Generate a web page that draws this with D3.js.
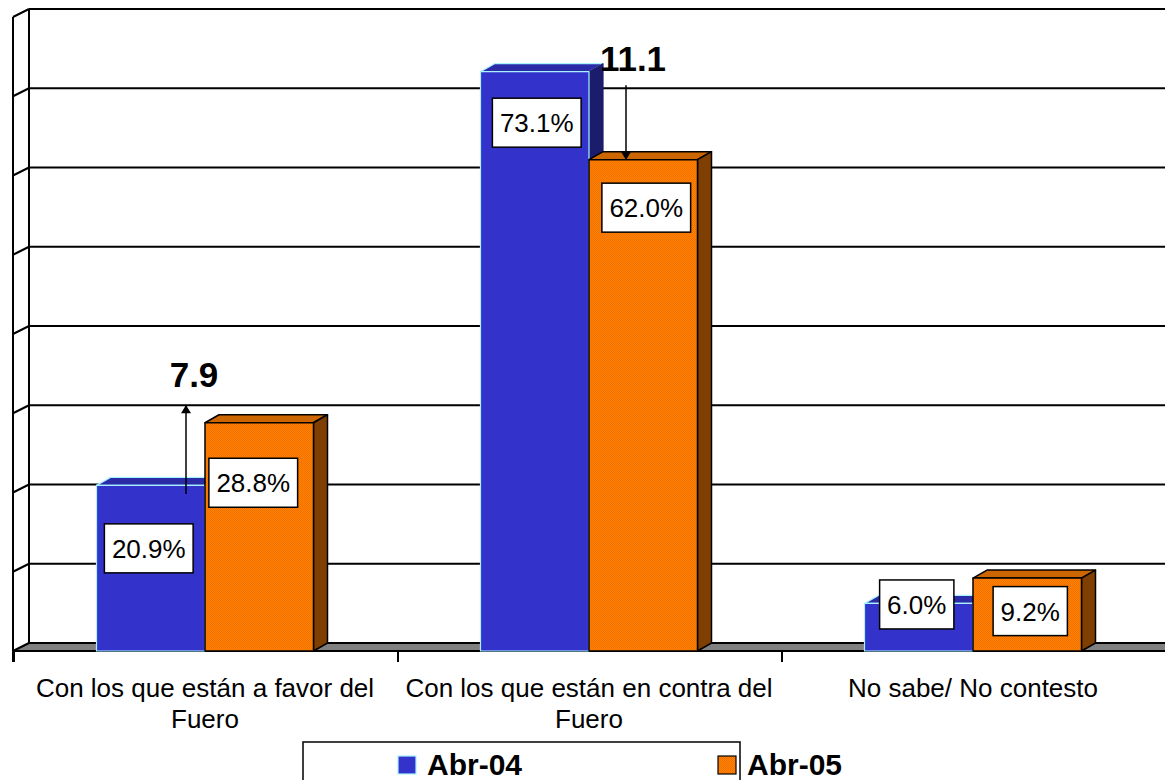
<!DOCTYPE html>
<html><head><meta charset="utf-8">
<script src="https://cdn.jsdelivr.net/npm/d3@7"></script>
<style>body{margin:0;background:#fff}svg{display:block;font-family:Arial,"Liberation Sans",sans-serif}</style>
</head><body>
<svg id="c" width="1165" height="780"></svg>
<script>
// ---- data ----
const categories = ["Con los que están a favor del Fuero", "Con los que están en contra del Fuero", "No sabe/ No contesto"];
const categoryLines = [["Con los que están a favor del", "Fuero"], ["Con los que están en contra del", "Fuero"], ["No sabe/ No contesto"]];
const seriesNames = ["Abr-04", "Abr-05"];
const abr04 = [20.9, 73.1, 6.0];
const abr05 = [28.8, 62.0, 9.2];
const yTicks = [0, 10, 20, 30, 40, 50, 60, 70, 80];

// ---- layout ----
const W = 1165, H = 780;
const WDX = 16, WDY = 8;   // wall depth
const BDX = 14, BDY = 8;   // bar depth
const labelDy = [[63, 51, 1], [60, 48, 33]];
const labelDx = [[-2, 2, -2], [-6, 3, 3]];
const annot = [
  {cat: 0, from: 19.8, to: 31.0, ax: 186, tx: 194, ty: 387},
  {cat: 1, from: 71.4, to: 62.0, ax: 626, tx: 633, ty: 71}
];

const svg = d3.select("#c");
const y = d3.scaleLinear().domain([0, 80]).range([651, 17]);
const x0 = d3.scaleBand().domain(d3.range(categories.length)).range([13, W]);
const x1 = d3.scaleBand().domain(seriesNames).range([83.5, 300.5]);
const series = [abr04, abr05];

const defs = svg.append("defs");
const pat = defs.append("pattern").attr("id", "org").attr("width", 2).attr("height", 2).attr("patternUnits", "userSpaceOnUse");
pat.append("rect").attr("width", 2).attr("height", 2).attr("fill", "#FF8400");
pat.append("rect").attr("width", 1).attr("height", 1).attr("fill", "#F26E00");
pat.append("rect").attr("x", 1).attr("y", 1).attr("width", 1).attr("height", 1).attr("fill", "#F26E00");

const xL = x0.range()[0];
// floor
svg.append("polygon")
  .attr("points", [[xL, y(0)], [xL + WDX, y(0) - WDY], [W + 5, y(0) - WDY], [W + 5, y(0)]].map(p => p.join(",")).join(" "))
  .attr("fill", "#808080");

// grid lines on back wall and left wall
const grid = svg.append("g").attr("stroke", "#000").attr("stroke-width", 2).attr("fill", "none");
yTicks.forEach(t => {
  grid.append("line").attr("x1", xL + WDX).attr("x2", W + 5).attr("y1", y(t) - WDY).attr("y2", y(t) - WDY);
  grid.append("line").attr("x1", xL).attr("x2", xL + WDX).attr("y1", y(t)).attr("y2", y(t) - WDY);
});
grid.append("line").attr("x1", xL + WDX).attr("x2", xL + WDX).attr("y1", y(80) - WDY).attr("y2", y(0) - WDY);
grid.append("line").attr("x1", xL).attr("x2", xL).attr("y1", y(80)).attr("y2", y(0) + 11);
// x axis front edge
grid.append("line").attr("x1", xL).attr("x2", W + 5).attr("y1", y(0)).attr("y2", y(0));
// category ticks
d3.range(categories.length + 1).forEach(i => {
  const xx = i < categories.length ? x0(i) : x0.range()[1];
  grid.append("line").attr("x1", xx + 1).attr("x2", xx + 1).attr("y1", y(0)).attr("y2", y(0) + 11);
});

// bars
const styles = [
  {front: "#3333CC", top: "#2B2BA8", side: "#1C1C6C", stroke: "#A8F2FF", sw: 1.2},
  {front: "url(#org)", top: "#CC6600", side: "#7F3F00", stroke: "#000", sw: 1.5}
];
const bars = svg.append("g");
categories.forEach((c, i) => {
  series.forEach((s, k) => {
    const st = styles[k];
    const x = x0(i) + x1(seriesNames[k]), w = x1.bandwidth();
    const top = y(s[i]), bot = y(0);
    const g = bars.append("g").attr("stroke", st.stroke).attr("stroke-width", st.sw).attr("stroke-linejoin", "round");
    g.append("polygon").attr("points", [[x, top], [x + BDX, top - BDY], [x + w + BDX, top - BDY], [x + w, top]].map(p => p.join(",")).join(" ")).attr("fill", st.top);
    g.append("polygon").attr("points", [[x + w, top], [x + w + BDX, top - BDY], [x + w + BDX, bot - BDY], [x + w, bot]].map(p => p.join(",")).join(" ")).attr("fill", st.side).attr("stroke", k === 0 ? "#1C1C6C" : "#000");
    g.append("rect").attr("x", x).attr("y", top).attr("width", w).attr("height", bot - top).attr("fill", st.front);
  });
});

// value labels
const labs = svg.append("g").attr("font-size", 26);
categories.forEach((c, i) => {
  series.forEach((s, k) => {
    const x = x0(i) + x1(seriesNames[k]) + x1.bandwidth() / 2 + labelDx[k][i];
    const cy = y(s[i]) + labelDy[k][i];
    const txt = s[i].toFixed(1) + "%";
    const t = labs.append("text").attr("x", x).attr("y", cy + 9.5).attr("text-anchor", "middle").text(txt);
    const bw = t.node().getComputedTextLength() + 15;
    labs.insert("rect", "text:last-child").attr("x", x - bw / 2).attr("y", cy - 24.5).attr("width", bw).attr("height", 49)
      .attr("fill", "#fff").attr("stroke", "#000").attr("stroke-width", 1.5);
  });
});

// annotations (differences)
defs.append("marker").attr("id", "arr").attr("viewBox", "0 0 10 12").attr("refX", 9.5).attr("refY", 6)
  .attr("markerWidth", 12).attr("markerHeight", 10).attr("markerUnits", "userSpaceOnUse").attr("orient", "auto")
  .append("path").attr("d", "M0,0 L10,6 L0,12 Z").attr("fill", "#000");
annot.forEach(a => {
  svg.append("line").attr("x1", a.ax).attr("x2", a.ax).attr("y1", y(a.from)).attr("y2", y(a.to))
    .attr("stroke", "#000").attr("stroke-width", 1.5).attr("marker-end", "url(#arr)");
  const diff = Math.abs(abr05[a.cat] - abr04[a.cat]).toFixed(1);
  svg.append("text").attr("x", a.tx).attr("y", a.ty).attr("text-anchor", "middle")
    .attr("font-size", 35).attr("font-weight", "bold").text(diff);
});

// category labels
const cl = svg.append("g").attr("font-size", 26).attr("text-anchor", "middle");
categoryLines.forEach((lines, i) => {
  const cx = x0(i) + x0.bandwidth() / 2;
  lines.forEach((ln, j) => cl.append("text").attr("x", cx).attr("y", 697 + j * 31).text(ln));
});

// legend
const lg = svg.append("g");
lg.append("rect").attr("x", 303).attr("y", 742).attr("width", 437).attr("height", 60).attr("fill", "#fff").attr("stroke", "#000").attr("stroke-width", 1.5);
const legX = [398, 718];
seriesNames.forEach((n, k) => {
  lg.append("rect").attr("x", legX[k]).attr("y", 756).attr("width", 18).attr("height", 18)
    .attr("fill", k === 0 ? "#3333CC" : "url(#org)").attr("stroke", k === 0 ? "#A8F2FF" : "#000").attr("stroke-width", 1.2);
  lg.append("text").attr("x", legX[k] + 29).attr("y", 775).attr("font-size", 30).attr("font-weight", "bold").text(n);
});
</script>
</body></html>
